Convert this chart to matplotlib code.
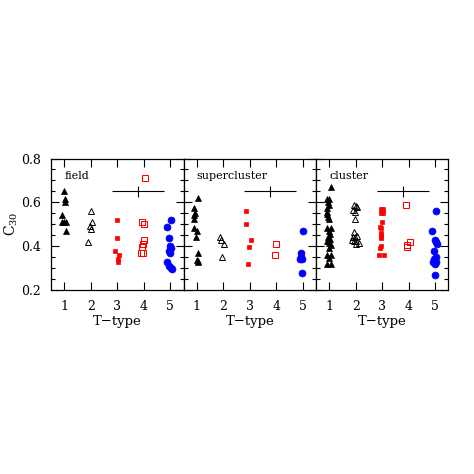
import matplotlib
matplotlib.use("Agg")
import matplotlib.pyplot as plt
from matplotlib.ticker import MultipleLocator

plt.rcParams['font.family'] = ['DejaVu Serif']
plt.rcParams['mathtext.fontset'] = 'dejavuserif'

panel_names = ["field", "supercluster", "cluster"]
xtick_vals = [1, 2, 3, 4, 5]
ytick_vals = [0.2, 0.4, 0.6, 0.8]

# field
f1_x = [1.00, 1.04, 1.04, 0.93, 0.93, 1.00, 1.06, 1.08]
f1_y = [0.65, 0.614, 0.603, 0.542, 0.511, 0.511, 0.511, 0.47]
f2_x = [2.02, 2.06, 1.99, 2.00, 1.89]
f2_y = [0.562, 0.511, 0.49, 0.48, 0.42]
f3_x = [3.00, 3.00, 2.90, 3.06, 3.02, 3.02]
f3_y = [0.519, 0.438, 0.379, 0.358, 0.34, 0.327]
f4_x = [4.04, 3.94, 4.00, 4.01, 3.96, 3.95, 3.88, 3.99]
f4_y = [0.711, 0.51, 0.50, 0.428, 0.41, 0.398, 0.367, 0.367]
f5_x = [5.01, 4.89, 4.94, 4.98, 5.02, 4.97, 5.00, 4.89, 4.96, 5.02, 5.05]
f5_y = [0.519, 0.489, 0.438, 0.40, 0.39, 0.38, 0.37, 0.329, 0.31, 0.30, 0.297]

# supercluster
s1_x = [1.05, 0.88, 0.92, 0.91, 0.88, 0.89, 1.01, 0.99, 1.05, 1.01, 1.04, 1.03]
s1_y = [0.621, 0.573, 0.553, 0.542, 0.522, 0.481, 0.47, 0.44, 0.37, 0.337, 0.332, 0.33]
s2_x = [1.89, 1.91, 2.01, 1.95]
s2_y = [0.44, 0.428, 0.41, 0.35]
s3_x = [2.87, 2.87, 3.04, 2.98, 2.95]
s3_y = [0.56, 0.50, 0.429, 0.397, 0.317]
s4_x = [3.99, 3.94]
s4_y = [0.408, 0.358]
s5_x = [5.01, 4.95, 4.94, 4.89, 4.99, 4.99]
s5_y = [0.469, 0.367, 0.352, 0.34, 0.34, 0.277]

# cluster
c1_x = [1.05, 0.92, 1.00, 0.96, 0.98, 0.90, 0.90, 0.90, 0.96, 1.00, 0.92, 1.05, 1.00,
        1.02, 0.96, 1.02, 0.92, 1.00, 1.05, 1.00, 0.92, 1.05, 1.00, 0.92, 1.05]
c1_y = [0.671, 0.615, 0.615, 0.603, 0.59, 0.575, 0.557, 0.545, 0.533, 0.522, 0.484, 0.484, 0.469,
        0.457, 0.443, 0.432, 0.423, 0.413, 0.405, 0.39, 0.36, 0.36, 0.347, 0.32, 0.32]
c2_x = [1.93, 2.01, 2.06, 1.90, 1.96, 1.96, 1.94, 2.05, 1.90, 1.99, 1.86, 1.95, 2.02, 2.11, 2.01]
c2_y = [0.59, 0.583, 0.58, 0.565, 0.555, 0.522, 0.463, 0.447, 0.443, 0.44, 0.428, 0.423, 0.423, 0.413, 0.41]
c3_x = [2.95, 3.03, 2.95, 3.03, 3.00, 2.93, 2.97, 2.95, 2.95, 2.95, 2.95, 2.90, 2.88, 3.05]
c3_y = [0.568, 0.568, 0.55, 0.55, 0.509, 0.489, 0.481, 0.458, 0.447, 0.438, 0.40, 0.39, 0.36, 0.36]
c4_x = [3.91, 4.05, 3.95, 3.95]
c4_y = [0.59, 0.417, 0.405, 0.397]
c5_x = [5.03, 4.89, 4.99, 5.04, 5.08, 4.96, 5.01, 4.95, 5.03, 4.90, 5.00, 5.00]
c5_y = [0.56, 0.469, 0.428, 0.42, 0.408, 0.378, 0.35, 0.34, 0.326, 0.326, 0.317, 0.268]

# representative error bar
err_x = 3.77
err_y = 0.65
err_dx = 0.98
err_dy = 0.025

panels = [
    [(f1_x, f1_y), (f2_x, f2_y), (f3_x, f3_y), (f4_x, f4_y), (f5_x, f5_y)],
    [(s1_x, s1_y), (s2_x, s2_y), (s3_x, s3_y), (s4_x, s4_y), (s5_x, s5_y)],
    [(c1_x, c1_y), (c2_x, c2_y), (c3_x, c3_y), (c4_x, c4_y), (c5_x, c5_y)],
]

styles = [
    dict(marker='^', markeredgecolor='black', markerfacecolor='black', markersize=3.8, markeredgewidth=0.5),
    dict(marker='^', markeredgecolor='black', markerfacecolor='none', markersize=3.8, markeredgewidth=0.7),
    dict(marker='s', markeredgecolor='#ff0000', markerfacecolor='#ff0000', markersize=3.5, markeredgewidth=0.5),
    dict(marker='s', markeredgecolor='#ff0000', markerfacecolor='none', markersize=3.8, markeredgewidth=0.75),
    dict(marker='o', markeredgecolor='#0000ff', markerfacecolor='#0000ff', markersize=5.0, markeredgewidth=0.5),
]

W = 474.0
fig = plt.figure(figsize=(4.74, 4.74), dpi=100)
left_px = 51.0
pw = 132.5
bottom = (W - 290.0) / W
height = 131.5 / W

for i, name in enumerate(panel_names):
    ax = fig.add_axes([(left_px + i * pw) / W, bottom, pw / W, height])
    for (xs, ys), st in zip(panels[i], styles):
        ax.plot(xs, ys, linestyle='none', **st)
    ax.errorbar([err_x], [err_y], xerr=[err_dx], yerr=[err_dy], fmt='none',
                ecolor='black', elinewidth=0.8, capsize=0)
    ax.text(1.0, 0.722, name, fontsize=8, ha='left', va='center')
    ax.set_xlim(0.5, 5.5)
    ax.set_ylim(0.2, 0.8)
    ax.set_xticks(xtick_vals)
    ax.set_yticks(ytick_vals)
    ax.yaxis.set_minor_locator(MultipleLocator(0.05))
    ax.tick_params(which='both', direction='in', top=True, right=True, width=0.8)
    ax.tick_params(which='major', length=5.5, labelsize=9, pad=7)
    ax.tick_params(which='minor', length=3)
    for sp in ax.spines.values():
        sp.set_linewidth(0.9)
    ax.set_xlabel('T\u2212type', fontsize=9.5, labelpad=2)
    if i == 0:
        ax.set_ylabel(r'C$_{30}$', fontsize=10)
        ax.yaxis.set_label_coords(-0.235, 0.5)
        ax.yaxis.set_major_formatter(plt.FuncFormatter(lambda v, p: f"{v:.1f}"))
    else:
        ax.set_yticklabels([])

fig.savefig('out.png', dpi=100)
